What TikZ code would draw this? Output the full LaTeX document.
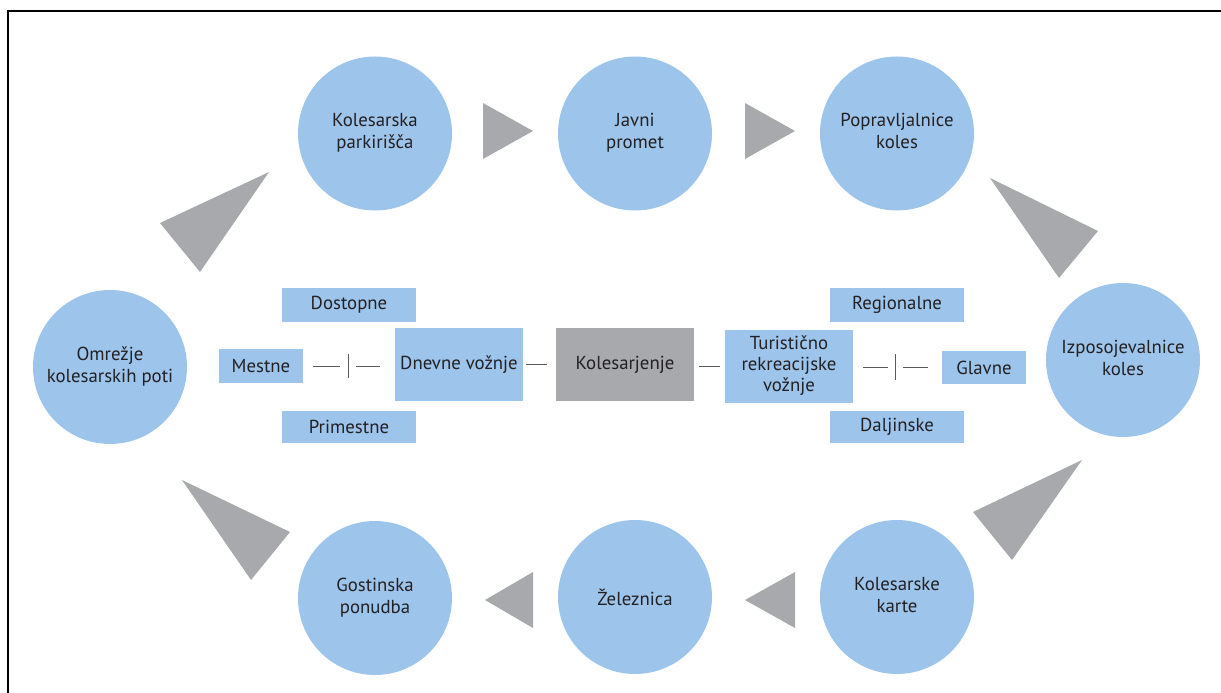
\documentclass[tikz,border=0pt]{standalone}
\usepackage{fontspec}
\setmainfont{PT Sans}
\definecolor{cblue}{RGB}{157,197,236}
\definecolor{cgray}{RGB}{167,169,172}
\definecolor{ctext}{RGB}{35,32,34}
\definecolor{cline}{RGB}{90,90,90}
\begin{document}
\begin{tikzpicture}[x=1pt,y=-1pt,
  every node/.style={font=\fontsize{18.8}{22}\selectfont, text=ctext, align=center, inner sep=0pt},
  circ/.style={circle, fill=cblue, minimum size=154pt},
  box/.style={rectangle, fill=cblue},
  grybox/.style={rectangle, fill=cgray},
  arr/.style={fill=cgray},
  conn/.style={draw=cline, line width=0.8pt}]
\useasboundingbox (0,0) rectangle (1221,693);
\draw[line width=1.4pt, black] (1240,11) -- (8,11) -- (8,710);
% circles
\node[circ] (kp) at (375,133.5) {\raisebox{4pt}{\begin{tabular}{@{}c@{}}Kolesarska\\parkirišča\end{tabular}}};
\node[circ] (jp) at (635,133.5) {\raisebox{4pt}{\begin{tabular}{@{}c@{}}Javni\\promet\end{tabular}}};
\node[circ] (pk) at (897,133.5) {\raisebox{4pt}{\begin{tabular}{@{}c@{}}Popravljalnice\\koles\end{tabular}}};
\node[circ] (ik) at (1123,360) {\raisebox{4pt}{\begin{tabular}{@{}c@{}}Izposojevalnice\\koles\end{tabular}}};
\node[circ] (om) at (110,367) {\raisebox{4pt}{\begin{tabular}{@{}c@{}}Omrežje\\kolesarskih poti\end{tabular}}};
\node[circ] (gp) at (375,598) {\raisebox{4pt}{\begin{tabular}{@{}c@{}}Gostinska\\ponudba\end{tabular}}};
\node[circ] (ze) at (635,597) {Železnica};
\node[circ] (kk) at (897,597) {\raisebox{4pt}{\begin{tabular}{@{}c@{}}Kolesarske\\karte\end{tabular}}};
% triangles
\fill[arr] (483,103) -- (483,159) -- (533,131) -- cycle;
\fill[arr] (745,103) -- (745,159) -- (795,131) -- cycle;
\fill[arr] (160,223) -- (269,172) -- (200,272) -- cycle;
\fill[arr] (990,178) -- (1098,231) -- (1059,278) -- cycle;
\fill[arr] (1082,460) -- (973,512) -- (1012,560) -- cycle;
\fill[arr] (182,480) -- (290,532) -- (251,580) -- cycle;
\fill[arr] (533,572) -- (533,628) -- (485,600) -- cycle;
\fill[arr] (795,572) -- (795,628) -- (745,600) -- cycle;
% boxes
\node[box, minimum width=134pt, minimum height=34pt] (dos) at (349,305) {Dostopne};
\node[box, minimum width=84pt, minimum height=34pt] (mes) at (261,366) {Mestne};
\node[box, minimum width=128pt, minimum height=73pt] (dn) at (459,364.5) {Dnevne vožnje};
\node[box, minimum width=134pt, minimum height=32pt] (pri) at (349,427) {Primestne};
\node[grybox, minimum width=138pt, minimum height=73pt] (kol) at (625,364.5) {Kolesarjenje};
\node[box, minimum width=128pt, minimum height=73pt] (tur) at (789,366.5) {\begin{tabular}{@{}c@{}}Turistično\\[-1pt]rekreacijske\\[-1pt]vožnje\end{tabular}};
\node[box, minimum width=134pt, minimum height=34pt] (reg) at (897,305) {Regionalne};
\node[box, minimum width=84pt, minimum height=33pt] (gla) at (984,367.5) {Glavne};
\node[box, minimum width=134pt, minimum height=32pt] (dal) at (897,427) {Daljinske};
% connectors
\coordinate (b1) at (348,366);
\coordinate (b2) at (895,367);
\draw[conn] ([xshift=10pt]mes.east |- b1) -- ([xshift=-8pt]b1);
\draw[conn] ([yshift=-12pt]b1) -- ([yshift=12pt]b1);
\draw[conn] ([xshift=8pt]b1) -- ([xshift=-15pt]dn.west |- b1);
\draw[conn] ([xshift=3pt]dn.east) -- ([xshift=-9pt]kol.west);
\draw[conn] ([xshift=5pt]kol.east |- tur.west) -- ([xshift=-5pt]tur.west);
\draw[conn] ([xshift=10pt]tur.east |- b2) -- ([xshift=-7pt]b2);
\draw[conn] ([yshift=-13pt]b2) -- ([yshift=13pt]b2);
\draw[conn] ([xshift=8pt]b2) -- ([xshift=-14pt]gla.west |- b2);
\end{tikzpicture}
\end{document}
